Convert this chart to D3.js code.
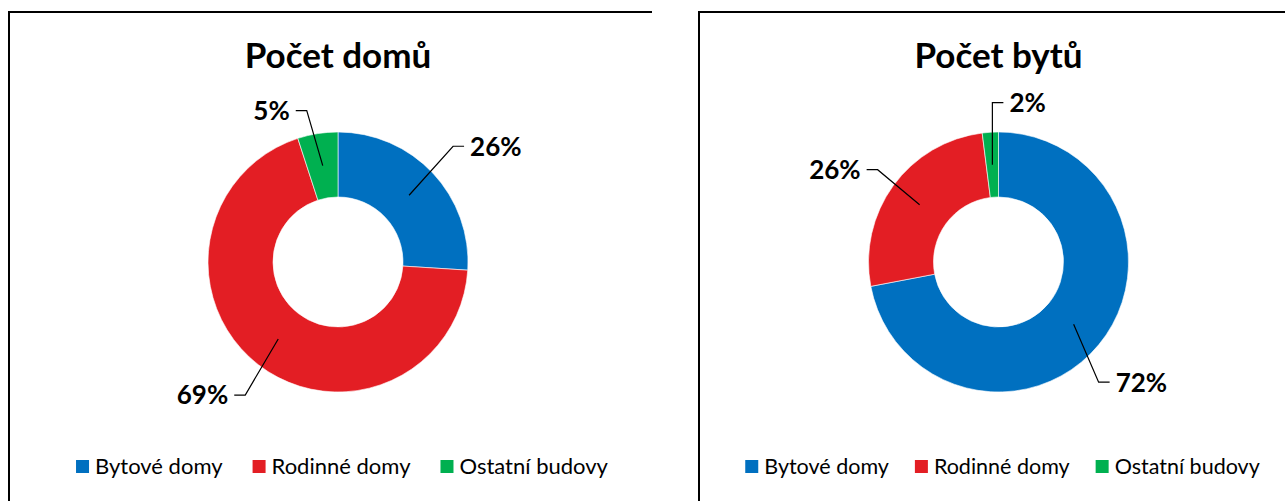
<!DOCTYPE html>
<html>
<head>
<meta charset="utf-8">
<title>Počet domů a bytů</title>
<style>
  body { margin: 0; background: #fff; }
  svg { display: block; font-family: Lato, "Liberation Sans", sans-serif; }
</style>
</head>
<body>
<script src="https://cdnjs.cloudflare.com/ajax/libs/d3/7.8.5/d3.min.js"></script>
<script>
// data
var categories = ["Bytové domy", "Rodinné domy", "Ostatní budovy"];
var colors = ["#0070C0", "#E31E24", "#00B050"];
var titles = ["Počet domů", "Počet bytů"];
var domy = [26, 69, 5];
var byty = [72, 26, 2];

var w = 1285, h = 501;
var svg = d3.select("body").append("svg").attr("width", w).attr("height", h);

// layout per panel: frame, donut centre, leader elbows (relative to slice centroid)
var panels = [
  { values: domy, title: titles[0], frameX: 9, frameR: 652, cx: 338, legSize: 22, legGap: 30,
    elbow: [[44, -49, 1], [-33, 56, -1], [-16, -55, -1]] },
  { values: byty, title: titles[1], frameX: 699, frameR: 1290, cx: 998.5, legSize: 21.5, legGap: 26,
    elbow: [[25, 58, 1], [-42, -35, -1], [0, -62, 1]] }
];
var cy = 262, rOut = 130, rIn = 65;

var pie = d3.pie().sort(null).value(function(d) { return d; });
var arc = d3.arc().innerRadius(rIn).outerRadius(rOut);

panels.forEach(function(p) {
  var g = svg.append("g");

  // frame: only top and left edges are in view
  g.append("path")
    .attr("d", "M" + p.frameX + "," + h + "V12H" + p.frameR)
    .attr("fill", "none").attr("stroke", "#000").attr("stroke-width", 2);

  g.append("text")
    .attr("x", p.cx).attr("y", 68)
    .attr("text-anchor", "middle")
    .attr("font-size", "35px").attr("font-weight", "bold")
    .text(p.title);

  var arcs = pie(p.values);
  var donut = g.append("g").attr("transform", "translate(" + p.cx + "," + cy + ")");

  donut.selectAll("path")
    .data(arcs)
    .enter().append("path")
    .attr("d", arc)
    .attr("fill", function(d, i) { return colors[i]; })
    .attr("stroke", "#fff").attr("stroke-width", 0.6);

  // leader lines + labels
  arcs.forEach(function(d, i) {
    var c = arc.centroid(d);
    var e = p.elbow[i];
    var ex = c[0] + e[0], ey = c[1] + e[1];
    var tx = ex + e[2] * 11;
    donut.append("polyline")
      .attr("points", [c, [ex, ey], [tx, ey]].map(function(q) { return q.join(","); }).join(" "))
      .attr("fill", "none").attr("stroke", "#000").attr("stroke-width", 1.2);
    donut.append("text")
      .attr("x", tx + e[2] * 6).attr("y", ey)
      .attr("dy", "0.36em")
      .attr("text-anchor", e[2] > 0 ? "start" : "end")
      .attr("font-size", "26px").attr("font-weight", "bold")
      .text(d.data + "%");
  });

  // legend
  var leg = g.append("g");
  var x = 0;
  categories.forEach(function(name, i) {
    var it = leg.append("g").attr("transform", "translate(" + x + ",0)");
    it.append("rect").attr("x", 0).attr("y", 460).attr("width", 13).attr("height", 13)
      .attr("fill", colors[i]);
    var t = it.append("text").attr("x", 19).attr("y", 466).attr("dy", "0.35em")
      .attr("font-size", p.legSize + "px").attr("fill", "#000").text(name);
    x += 19 + t.node().getComputedTextLength() + p.legGap;
  });
  var total = x - p.legGap;
  leg.attr("transform", "translate(" + (p.cx + 4 - total / 2) + ",0)");
});
</script>
</body>
</html>
